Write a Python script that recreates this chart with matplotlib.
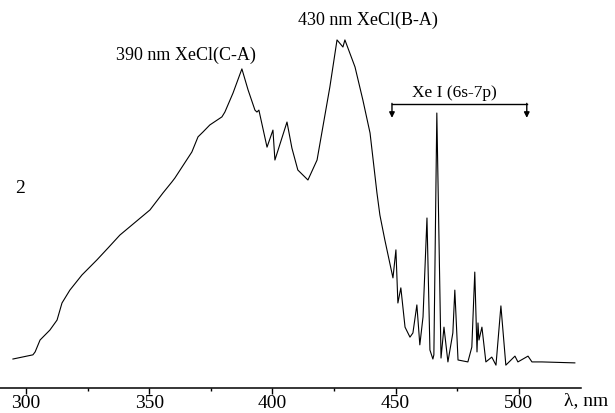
import matplotlib
matplotlib.use('Agg')
import matplotlib.pyplot as plt

plt.rcParams['font.family'] = ['Liberation Serif', 'DejaVu Serif']

# emission spectrum, curve 2
wavelength = [294.7, 302.8, 303.7, 305.7, 309.7, 312.6, 314.6, 317.8, 322.7, 328.8,
              333.3, 338.1, 350.3, 355.6, 359.2, 360.4, 367.3, 369.8, 371.8, 374.6,
              379.5, 380.7, 384.0, 387.6, 390.1, 392.9, 393.7, 394.5, 397.8, 400.2,
              401.0, 405.9, 407.9, 410.3, 414.4, 418.1, 423.3, 426.2, 428.6, 429.4,
              433.5, 436.7, 439.6, 442.4, 443.6, 445.6, 448.9, 450.1, 450.9, 452.1,
              453.8, 455.8, 457.0, 458.6, 459.8, 461.1, 462.7, 463.9, 465.1, 465.5,
              466.7, 468.4, 469.6, 471.2, 473.2, 474.0, 475.3, 479.3, 480.9, 482.1,
              483.0, 483.4, 483.8, 485.0, 486.6, 489.0, 490.7, 492.7, 494.7, 498.4,
              499.6, 503.7, 505.3, 509.3, 522.7]
intensity = [0.003, 0.016, 0.025, 0.062, 0.093, 0.124, 0.177, 0.217, 0.264, 0.311,
             0.348, 0.388, 0.466, 0.519, 0.553, 0.565, 0.646, 0.693, 0.708, 0.730,
             0.755, 0.770, 0.829, 0.904, 0.839, 0.776, 0.770, 0.776, 0.661, 0.714,
             0.621, 0.739, 0.658, 0.590, 0.559, 0.621, 0.848, 0.994, 0.972, 0.994,
             0.910, 0.807, 0.705, 0.519, 0.450, 0.373, 0.255, 0.342, 0.177, 0.224,
             0.102, 0.071, 0.084, 0.171, 0.047, 0.134, 0.441, 0.031, 0.003, 0.016,
             0.767, 0.006, 0.102, -0.006, 0.084, 0.217, 0.000, -0.006, 0.040, 0.273,
             0.025, 0.115, 0.062, 0.102, -0.006, 0.009, -0.016, 0.168, -0.016, 0.012,
             -0.006, 0.012, -0.006, -0.006, -0.009]

xticks = [300, 350, 400, 450, 500]
minor_xticks = [325, 375, 425, 475]
xei_range = [448.5, 503.2]

fig = plt.figure(figsize=(6.15, 4.13), dpi=100)
ax = fig.add_axes([0, 25 / 413, 581 / 615, 388 / 413])

ax.plot(wavelength, intensity, color='black', lw=0.8)

ax.set_xlim(289.45, 525.2)
ax.set_ylim(-0.087, 1.118)
for s in ['left', 'top', 'right']:
    ax.spines[s].set_visible(False)
ax.spines['bottom'].set_linewidth(1.1)
ax.set_yticks([])
ax.set_xticks(xticks)
ax.set_xticks(minor_xticks, minor=True)
ax.tick_params(axis='x', which='major', direction='out', length=4, width=1, labelsize=14, pad=1)
ax.tick_params(axis='x', which='minor', direction='out', length=2.5, width=1)

ax.text(518.5, -0.125, 'λ, nm', fontsize=14, ha='left', va='center', clip_on=False)
ax.text(297.6, 0.534, '2', fontsize=14, ha='center', va='center')

ax.text(364.9, 0.947, '390 nm XeCl(C-A)', fontsize=13, ha='center', va='center')
ax.text(438.7, 1.056, '430 nm XeCl(B-A)', fontsize=13, ha='center', va='center')
ax.text(474.0, 0.829, 'Xe I (6s-7p)', fontsize=12.5, ha='center', va='center')

# bracket with arrows for the Xe I lines
ax.plot(xei_range, [0.795, 0.795], color='black', lw=1)
for xv in xei_range:
    ax.annotate('', xy=(xv, 0.752), xytext=(xv, 0.797),
                arrowprops=dict(arrowstyle='-|>', color='black', lw=1,
                                mutation_scale=8, shrinkA=0, shrinkB=0))

fig.savefig('out.png', dpi=100)
